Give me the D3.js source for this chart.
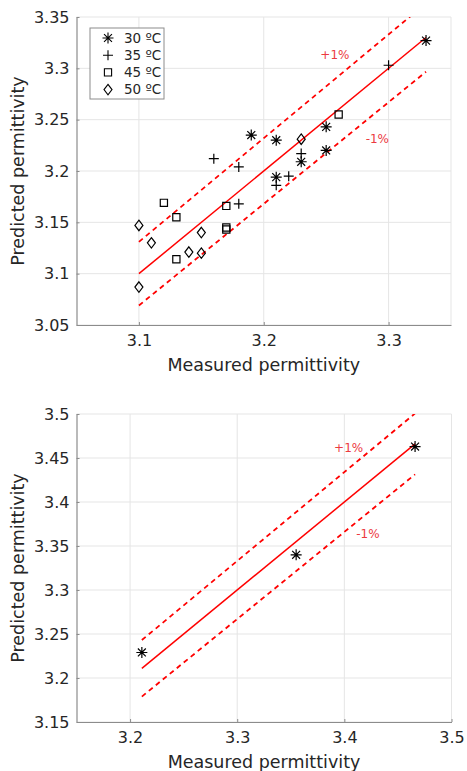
<!DOCTYPE html>
<html>
<head>
<meta charset="utf-8">
<script src="https://cdn.jsdelivr.net/npm/d3@7"></script>
<style>
  body { margin: 0; background: #fff; }
  svg { display: block; font-family: "DejaVu Sans", sans-serif; }
</style>
</head>
<body>
<div id="chart-area"></div>
<script>
// ---- data: top panel (four temperatures) ----
var seriesNames = ["30 ºC", "35 ºC", "45 ºC", "50 ºC"];
var seriesMarkers = ["asterisk", "plus", "square", "diamond"];

var meas30 = [3.19, 3.21, 3.25, 3.25, 3.23, 3.21, 3.33];
var pred30 = [3.235, 3.23, 3.243, 3.22, 3.209, 3.194, 3.327];

var meas35 = [3.16, 3.18, 3.18, 3.21, 3.22, 3.23, 3.30];
var pred35 = [3.212, 3.204, 3.168, 3.186, 3.195, 3.217, 3.303];

var meas45 = [3.12, 3.13, 3.13, 3.17, 3.17, 3.17, 3.26];
var pred45 = [3.169, 3.155, 3.114, 3.166, 3.145, 3.143, 3.255];

var meas50 = [3.10, 3.11, 3.14, 3.15, 3.15, 3.10, 3.23];
var pred50 = [3.147, 3.130, 3.121, 3.140, 3.120, 3.087, 3.231];

var topXTicks = [3.1, 3.2, 3.3];
var topYTicks = [3.05, 3.1, 3.15, 3.2, 3.25, 3.3, 3.35];
var topPlusLabel = [3.257, 3.313];
var topMinusLabel = [3.291, 3.231];

// ---- data: bottom panel (30 ºC only) ----
var measBottom = [3.211, 3.355, 3.466];
var predBottom = [3.229, 3.340, 3.463];

var botXTicks = [3.2, 3.3, 3.4, 3.5];
var botYTicks = [3.15, 3.2, 3.25, 3.3, 3.35, 3.4, 3.45, 3.5];
var botPlusLabel = [3.404, 3.462];
var botMinusLabel = [3.422, 3.364];

var tolerance = 0.01;

var W = 467, H = 771;
var svg = d3.select("#chart-area").append("svg")
    .attr("width", W).attr("height", H);

var gridColor = "#e5e5e5";
var axisColor = "#8c8c8c";
var textColor = "#262626";
var red = "#ff0000";

function fmt(d) { return String(+d.toFixed(2)); }

function markerPath(type, s) {
    var h = s / 2;
    if (type == "asterisk") {
        var d2 = h * 0.72;
        return "M0," + (-h) + "V" + h + "M" + (-h) + ",0H" + h +
            "M" + (-d2) + "," + (-d2) + "L" + d2 + "," + d2 +
            "M" + (-d2) + "," + d2 + "L" + d2 + "," + (-d2);
    }
    if (type == "plus") {
        return "M0," + (-h) + "V" + h + "M" + (-h) + ",0H" + h;
    }
    if (type == "square") {
        var q = h * 0.72;
        return "M" + (-q) + "," + (-q) + "H" + q + "V" + q + "H" + (-q) + "Z";
    }
    // diamond
    return "M0," + (-h * 1.05) + "L" + (h * 0.8) + ",0L0," + (h * 1.05) + "L" + (-h * 0.8) + ",0Z";
}
var markerSize = { asterisk: 11, plus: 10, square: 10, diamond: 10 };

function drawPanel(cfg) {
    var x = d3.scaleLinear().domain(cfg.xDomain).range([cfg.left, cfg.right]);
    var y = d3.scaleLinear().domain(cfg.yDomain).range([cfg.bottom, cfg.top]);
    var g = svg.append("g");

    // grid
    g.selectAll(".vgrid").data(cfg.xTicks).enter().append("line")
        .attr("x1", d => x(d)).attr("x2", d => x(d))
        .attr("y1", cfg.top).attr("y2", cfg.bottom)
        .attr("stroke", gridColor).attr("stroke-width", 1);
    g.selectAll(".hgrid").data(cfg.yTicks).enter().append("line")
        .attr("x1", cfg.left).attr("x2", cfg.right)
        .attr("y1", d => y(d)).attr("y2", d => y(d))
        .attr("stroke", gridColor).attr("stroke-width", 1);
    g.append("line")
        .attr("x1", cfg.right).attr("x2", cfg.right)
        .attr("y1", cfg.top).attr("y2", cfg.bottom)
        .attr("stroke", gridColor);

    // axes
    var xAxis = d3.axisBottom(x).tickValues(cfg.xTicks).tickFormat(fmt).tickSizeInner(-3).tickSizeOuter(0).tickPadding(10);
    var yAxis = d3.axisLeft(y).tickValues(cfg.yTicks).tickFormat(fmt).tickSizeInner(-3).tickSizeOuter(0).tickPadding(7);
    var gx = g.append("g").attr("transform", "translate(0," + cfg.bottom + ")").call(xAxis);
    var gy = g.append("g").attr("transform", "translate(" + cfg.left + ",0)").call(yAxis);
    [gx, gy].forEach(a => {
        a.select(".domain").attr("stroke", axisColor).attr("stroke-width", 1.2);
        a.selectAll(".tick line").attr("stroke", axisColor);
        a.selectAll(".tick text").attr("fill", textColor)
            .attr("font-size", "16px").attr("font-family", "DejaVu Sans, sans-serif");
    });

    // axis labels
    g.append("text").attr("x", (cfg.left + cfg.right) / 2).attr("y", cfg.bottom + 46)
        .attr("text-anchor", "middle").attr("font-size", "17.5px").attr("fill", textColor)
        .text("Measured permittivity");
    g.append("text")
        .attr("transform", "translate(18," + (cfg.top + cfg.bottom) / 2 + ") rotate(-90)")
        .attr("dy", "0.35em")
        .attr("text-anchor", "middle").attr("font-size", "17.5px").attr("fill", textColor)
        .text("Predicted permittivity");

    // clip for lines
    var clipId = "clip" + cfg.id;
    svg.append("clipPath").attr("id", clipId).append("rect")
        .attr("x", cfg.left).attr("y", cfg.top)
        .attr("width", cfg.right - cfg.left).attr("height", cfg.bottom - cfg.top);

    var allMeas = d3.merge(cfg.series.map(s => s.meas));
    var ext = d3.extent(allMeas);
    var lg = g.append("g").attr("clip-path", "url(#" + clipId + ")");
    var line = d3.line().x(d => x(d[0])).y(d => y(d[1]));
    [[1, null], [1 + tolerance, "5,4"], [1 - tolerance, "5,4"]].forEach(f => {
        lg.append("path")
            .attr("d", line(ext.map(v => [v, v * f[0]])))
            .attr("fill", "none").attr("stroke", red)
            .attr("stroke-width", f[1] ? 1.8 : 1.5)
            .attr("stroke-dasharray", f[1]);
    });

    // tolerance labels
    [[cfg.plusLabel, "+1%"], [cfg.minusLabel, "-1%"]].forEach(l => {
        g.append("text").attr("x", x(l[0][0])).attr("y", y(l[0][1]))
            .attr("dy", "0.35em").attr("text-anchor", "middle")
            .attr("font-size", "12px").attr("fill", "#ec3a3f")
            .text(l[1]);
    });

    // points
    cfg.series.forEach(s => {
        g.selectAll(null).data(d3.zip(s.meas, s.pred)).enter().append("path")
            .attr("transform", d => "translate(" + x(d[0]) + "," + y(d[1]) + ")")
            .attr("d", markerPath(s.marker, markerSize[s.marker]))
            .attr("fill", "none").attr("stroke", "#000").attr("stroke-width", 1.2);
    });
    return g;
}

var topPanel = drawPanel({
    id: "top", left: 76.5, right: 451, top: 17, bottom: 325,
    xDomain: [3.05, 3.35], yDomain: [3.05, 3.35],
    xTicks: topXTicks, yTicks: topYTicks,
    plusLabel: topPlusLabel, minusLabel: topMinusLabel,
    series: [
        { meas: meas30, pred: pred30, marker: seriesMarkers[0] },
        { meas: meas35, pred: pred35, marker: seriesMarkers[1] },
        { meas: meas45, pred: pred45, marker: seriesMarkers[2] },
        { meas: meas50, pred: pred50, marker: seriesMarkers[3] }
    ]
});

drawPanel({
    id: "bot", left: 76.5, right: 451.5, top: 414, bottom: 722,
    xDomain: [3.15, 3.5], yDomain: [3.15, 3.5],
    xTicks: botXTicks, yTicks: botYTicks,
    plusLabel: botPlusLabel, minusLabel: botMinusLabel,
    series: [{ meas: measBottom, pred: predBottom, marker: seriesMarkers[0] }]
});

// legend (top panel)
var legend = svg.append("g").attr("transform", "translate(90,28)");
legend.append("rect").attr("width", 74).attr("height", 71)
    .attr("fill", "#fff").attr("stroke", "#8c8c8c").attr("stroke-width", 1);
seriesNames.forEach((name, i) => {
    var row = legend.append("g").attr("transform", "translate(0," + (10 + i * 17.2) + ")");
    row.append("path").attr("transform", "translate(18,0)")
        .attr("d", markerPath(seriesMarkers[i], markerSize[seriesMarkers[i]]))
        .attr("fill", "none").attr("stroke", "#000").attr("stroke-width", 1.1);
    row.append("text").attr("x", 34).attr("dy", "0.35em")
        .attr("font-size", "13.5px").attr("fill", textColor).text(name);
});
</script>
</body>
</html>
